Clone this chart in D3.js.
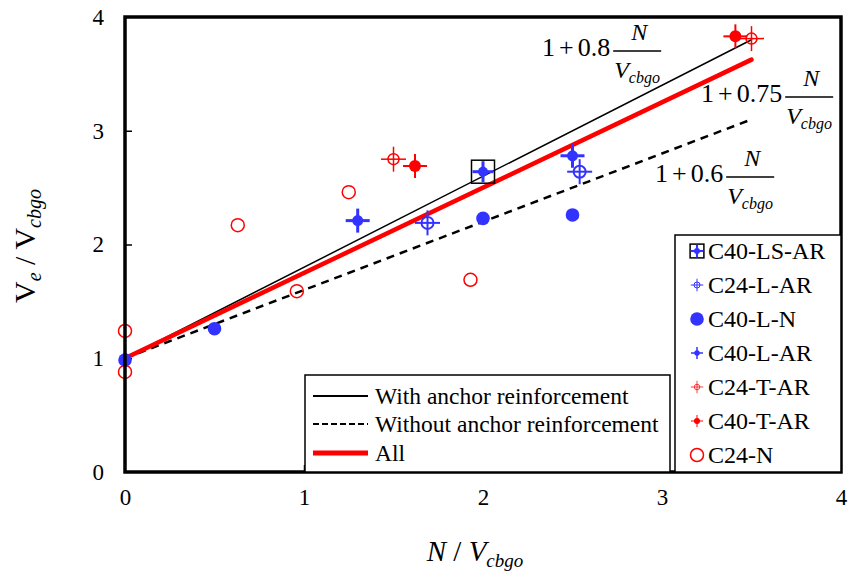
<!DOCTYPE html>
<html>
<head>
<meta charset="utf-8">
<script src="https://cdn.jsdelivr.net/npm/d3@7"></script>
<style>
  html, body { margin: 0; padding: 0; background: #fff; }
  svg, svg text { font-family: 'Liberation Serif', 'DejaVu Serif', 'Times New Roman', Times, serif; }
</style>
</head>
<body>
<svg id="chart" width="848" height="582"></svg>
<script>
// Specimen groups: [N/Vcbgo, Ve/Vcbgo]
const c40LSAR = [[2.00, 2.64]];
const c24LAR  = [[1.69, 2.19], [2.54, 2.64]];
const c40LN   = [[0.00, 0.985], [0.50, 1.26], [2.00, 2.23], [2.50, 2.26]];
const c40LAR  = [[1.30, 2.21], [2.50, 2.78]];
const c24TAR  = [[1.50, 2.75], [3.50, 3.81]];
const c40TAR  = [[1.62, 2.69], [3.41, 3.83]];
const c24N    = [[0.00, 1.24], [0.00, 0.88], [0.63, 2.17], [0.96, 1.59], [1.25, 2.46], [1.93, 1.69]];

// Design equations Ve/Vcbgo = 1 + k * N/Vcbgo
const fitLabels = ["With anchor reinforcement", "Without anchor reinforcement", "All"];
const fitSlopes = [0.8, 0.6, 0.75];
const fitRange  = [0, 3.5];

const xTicks = [0, 1, 2, 3, 4];
const yTicks = [0, 1, 2, 3, 4];

const seriesNames = ["C40-LS-AR", "C24-L-AR", "C40-L-N", "C40-L-AR", "C24-T-AR", "C40-T-AR", "C24-N"];

const BLUE = "#3333ff", RED = "#ff0000";
const SERIF = "'Liberation Serif', 'DejaVu Serif', 'Times New Roman', Times, serif";

const svg = d3.select("#chart").attr("font-family", SERIF);
const x = d3.scaleLinear().domain([0, 4]).range([125, 841]);
const y = d3.scaleLinear().domain([0, 4]).range([472, 17]);

// Axes with inward ticks
const xAxis = d3.axisBottom(x).tickValues(xTicks).tickFormat(d3.format("d"))
  .tickSizeInner(-7).tickSizeOuter(0).tickPadding(17);
const yAxis = d3.axisLeft(y).tickValues(yTicks).tickFormat(d3.format("d"))
  .tickSizeInner(-7).tickSizeOuter(0).tickPadding(21);

const gx = svg.append("g").attr("transform", `translate(0,${y(0)})`).call(xAxis);
const gy = svg.append("g").attr("transform", `translate(${x(0)},0)`).call(yAxis);
[gx, gy].forEach(g => {
  g.attr("font-family", SERIF).attr("font-size", 23);
  g.select(".domain").remove();
  g.selectAll("text").attr("fill", "#000");
  g.selectAll("line").attr("stroke", "#000").attr("stroke-width", 1.5);
});
gx.selectAll(".tick").filter(d => d === 0 || d === 4).select("line").remove();
gy.selectAll(".tick").filter(d => d === 0 || d === 4).select("line").remove();

// Fit lines
const lineGen = d3.line().x(d => x(d[0])).y(d => y(d[1]));
const fitPts = k => fitRange.map(v => [v, 1 + k * v]);
const fitStyles = [
  { stroke: "#000", width: 1.5, dash: null },
  { stroke: "#000", width: 2.5, dash: "8,6" },
  { stroke: RED, width: 4.5, dash: null }
];
const fitG = svg.append("g");
fitSlopes.forEach((k, i) => {
  fitG.append("path").attr("d", lineGen(fitPts(k)))
    .attr("fill", "none").attr("stroke", fitStyles[i].stroke)
    .attr("stroke-width", fitStyles[i].width)
    .attr("stroke-dasharray", fitStyles[i].dash)
    .attr("stroke-linecap", fitStyles[i].dash ? "butt" : "round");
});

// Marker painters
function cross(g, cx, cy, arm, color, w) {
  g.append("line").attr("x1", cx - arm).attr("x2", cx + arm).attr("y1", cy).attr("y2", cy)
    .attr("stroke", color).attr("stroke-width", w);
  g.append("line").attr("x1", cx).attr("x2", cx).attr("y1", cy - arm).attr("y2", cy + arm)
    .attr("stroke", color).attr("stroke-width", w);
}
const painters = {
  "C40-LS-AR": (g, cx, cy, s) => {
    const h = 11.5 * s;
    g.append("rect").attr("x", cx - h).attr("y", cy - h).attr("width", 2 * h).attr("height", 2 * h)
      .attr("fill", "none").attr("stroke", "#000").attr("stroke-width", 1.5);
    g.append("circle").attr("cx", cx).attr("cy", cy).attr("r", 5 * s).attr("fill", BLUE);
    cross(g, cx, cy, 10.5 * s, BLUE, 3 * Math.max(s, 0.7));
  },
  "C24-L-AR": (g, cx, cy, s) => {
    g.append("circle").attr("cx", cx).attr("cy", cy).attr("r", 6 * s).attr("fill", "none")
      .attr("stroke", BLUE).attr("stroke-width", 2 * s);
    cross(g, cx, cy, 12.5 * s, BLUE, 2 * s);
  },
  "C40-L-N": (g, cx, cy, s) => {
    g.append("circle").attr("cx", cx).attr("cy", cy).attr("r", 6.8).attr("fill", BLUE);
  },
  "C40-L-AR": (g, cx, cy, s) => {
    g.append("circle").attr("cx", cx).attr("cy", cy).attr("r", 5.5 * s).attr("fill", BLUE);
    cross(g, cx, cy, 12 * s, BLUE, 3 * s);
  },
  "C24-T-AR": (g, cx, cy, s) => {
    g.append("circle").attr("cx", cx).attr("cy", cy).attr("r", 5.5 * s).attr("fill", "none")
      .attr("stroke", RED).attr("stroke-width", 1.5 * s);
    cross(g, cx, cy, 12.5 * s, RED, 1.5 * s);
  },
  "C40-T-AR": (g, cx, cy, s) => {
    g.append("circle").attr("cx", cx).attr("cy", cy).attr("r", 6 * s).attr("fill", RED);
    cross(g, cx, cy, 12 * s, RED, 2 * s);
  },
  "C24-N": (g, cx, cy, s) => {
    g.append("circle").attr("cx", cx).attr("cy", cy).attr("r", 6.5).attr("fill", "none")
      .attr("stroke", RED).attr("stroke-width", 1.5);
  }
};

const seriesData = [c40LSAR, c24LAR, c40LN, c40LAR, c24TAR, c40TAR, c24N];
// draw in an order that keeps filled markers beneath open ones where they overlap
const drawOrder = [6, 2, 3, 0, 1, 5, 4];
const ptsG = svg.append("g");
drawOrder.forEach(i => {
  const name = seriesNames[i];
  seriesData[i].forEach(d => painters[name](ptsG.append("g"), x(d[0]), y(d[1]), 1));
});

// Plot frame
svg.append("rect").attr("x", x(0)).attr("y", y(4)).attr("width", x(4) - x(0)).attr("height", y(0) - y(4))
  .attr("fill", "none").attr("stroke", "#000").attr("stroke-width", 3.5);

// Formula annotations: 1 + k N / Vcbgo
function formula(x0, base, k) {
  const g = svg.append("g").attr("fill", "#000").attr("font-family", SERIF);
  const t = g.append("text").attr("x", x0).attr("y", base).attr("font-size", 26);
  t.append("tspan").text("1");
  t.append("tspan").attr("dx", 4).text("+");
  t.append("tspan").attr("dx", 4).text(String(k));
  const w = t.node().getComputedTextLength() + 8;
  const bx = x0 + w + 3, bw = 48, by = base - 5;
  g.append("line").attr("x1", bx).attr("x2", bx + bw).attr("y1", by).attr("y2", by)
    .attr("stroke", "#000").attr("stroke-width", 1.3);
  g.append("text").attr("x", bx + bw / 2 + 2).attr("y", by - 11.5).attr("text-anchor", "middle")
    .attr("font-size", 24).attr("font-style", "italic").text("N");
  const v = g.append("text").attr("x", bx + 1).attr("y", by + 27).attr("font-size", 24).attr("font-style", "italic");
  v.append("tspan").text("V");
  v.append("tspan").attr("font-size", 16).attr("dy", 5).text("cbgo");
}
formula(542, 56, fitSlopes[0]);
formula(701, 102, fitSlopes[2]);
formula(655, 182, fitSlopes[1]);

// Axis titles
const xt = svg.append("text").attr("x", 475).attr("y", 561).attr("text-anchor", "middle")
  .attr("font-size", 29).attr("font-style", "italic").attr("font-family", SERIF);
xt.append("tspan").text("N");
xt.append("tspan").attr("font-style", "normal").text(" / ");
xt.append("tspan").text("V");
xt.append("tspan").attr("font-size", 19).attr("dy", 6).text("cbgo");

const yt = svg.append("text").attr("transform", "translate(35,246) rotate(-90)")
  .attr("text-anchor", "middle").attr("font-size", 30).attr("font-family", SERIF);
yt.append("tspan").text("V");
yt.append("tspan").attr("font-size", 20).attr("font-style", "italic").attr("dy", 6).text("e");
yt.append("tspan").attr("dy", -6).text(" / V");
yt.append("tspan").attr("font-size", 20).attr("font-style", "italic").attr("dy", 6).text("cbgo");

// Legend for fit lines
const lg1 = svg.append("g").attr("font-family", SERIF);
lg1.append("rect").attr("x", 305).attr("y", 375).attr("width", 365).attr("height", y(0) - 375)
  .attr("fill", "#fff").attr("stroke", "#000").attr("stroke-width", 1.5);
const lgRows1 = [396, 424, 453];
fitLabels.forEach((lab, i) => {
  lg1.append("line").attr("x1", 313).attr("x2", 368).attr("y1", lgRows1[i]).attr("y2", lgRows1[i])
    .attr("stroke", fitStyles[i].stroke).attr("stroke-width", i === 2 ? 5 : 2)
    .attr("stroke-dasharray", i === 1 ? "6,3" : null);
  lg1.append("text").attr("x", 375).attr("y", lgRows1[i] + 8).attr("font-size", 23.5).text(lab);
});

// Legend for specimen groups
const lg2 = svg.append("g").attr("font-family", SERIF);
lg2.append("rect").attr("x", 675).attr("y", 235).attr("width", x(4) - 675).attr("height", y(0) - 235)
  .attr("fill", "#fff").attr("stroke", "#000").attr("stroke-width", 1.5);
seriesNames.forEach((name, i) => {
  const cy = 251 + i * 34;
  const g = lg2.append("g");
  if (name === "C40-L-N" || name === "C24-N") painters[name](g, 697, cy, 1);
  else if (name === "C40-LS-AR") painters[name](g, 697, cy, 0.6);
  else painters[name](g, 697, cy, 0.5);
  lg2.append("text").attr("x", 708).attr("y", cy + 8).attr("font-size", 24).text(name);
});
</script>
</body>
</html>
